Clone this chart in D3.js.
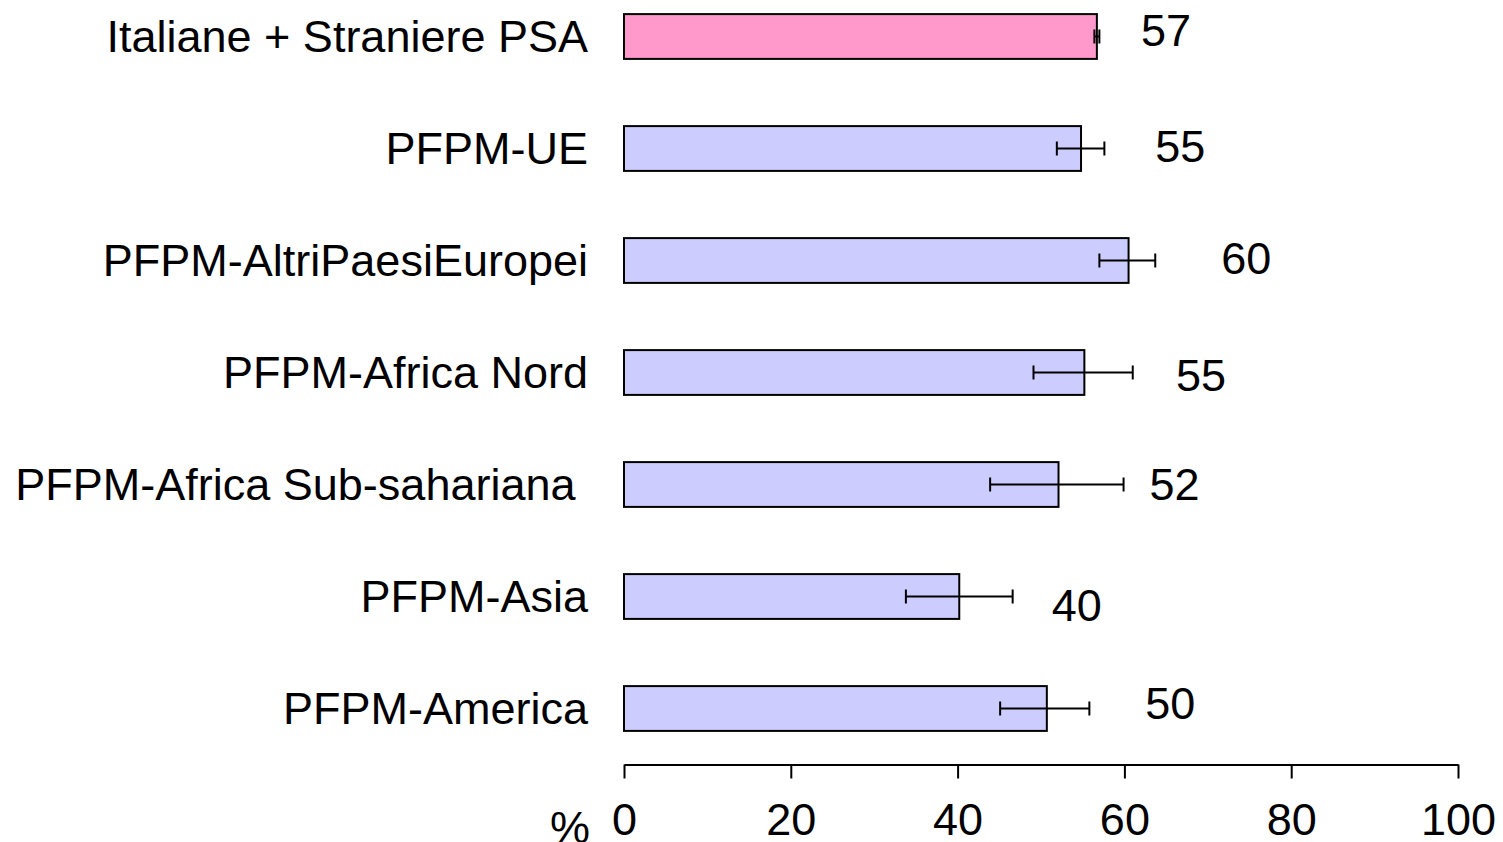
<!DOCTYPE html>
<html>
<head>
<meta charset="utf-8">
<script src="https://cdn.jsdelivr.net/npm/d3@7"></script>
<style>
  html, body { margin: 0; padding: 0; background: #ffffff; overflow: hidden; }
  svg { display: block; }
  text { font-family: "Liberation Sans", Arial, sans-serif; fill: #000; white-space: pre; }
</style>
</head>
<body>
<svg id="chart" width="1503" height="842"></svg>
<script>
// ---- data ----
const categories = [
  "Italiane + Straniere PSA",
  "PFPM-UE",
  "PFPM-AltriPaesiEuropei",
  "PFPM-Africa Nord",
  "PFPM-Africa Sub-sahariana ",
  "PFPM-Asia",
  "PFPM-America"
];
const values   = [56.7, 54.8, 60.5, 55.2, 52.1, 40.2, 50.7];
const errLow   = [56.4, 51.9, 57.0, 49.1, 43.9, 33.8, 45.1];
const errHigh  = [57.0, 57.6, 63.7, 61.0, 59.9, 46.6, 55.8];
const valueLabels = ["57", "55", "60", "55", "52", "40", "50"];
const tickValues = [0, 20, 40, 60, 80, 100];
const axisUnit = "%";

// ---- layout (not data) ----
const labelAt = [62.0, 63.7, 71.6, 66.2, 63.0, 51.3, 62.5];   // label anchor along the value axis
const labelDy = [9.5, 13, 13.5, 18.5, 15, 24.5, 10.5];        // baseline offset from bar centre, px
const barColors = ["#FF99CC", "#CCCCFF", "#CCCCFF", "#CCCCFF", "#CCCCFF", "#CCCCFF", "#CCCCFF"];

const svg = d3.select("#chart");
const fontSize = 45;

const x = d3.scaleLinear().domain([0, 100]).range([624, 1458]);
const y = d3.scaleBand().domain(categories).range([-19.5, 764.5])
  .paddingInner(0.6).paddingOuter(0.3);

const rows = categories.map((c, i) => ({
  c, v: values[i], lo: errLow[i], hi: errHigh[i], lab: valueLabels[i],
  la: labelAt[i], dy: labelDy[i], col: barColors[i]
}));

// bars
svg.append("g").selectAll("rect").data(rows).join("rect")
  .attr("x", x(0))
  .attr("y", d => y(d.c))
  .attr("width", d => x(d.v) - x(0))
  .attr("height", y.bandwidth())
  .attr("fill", d => d.col)
  .attr("stroke", "#000")
  .attr("stroke-width", 2);

// error bars
const capH = 14;
const eg = svg.append("g").attr("stroke", "#000").attr("stroke-width", 2).attr("fill", "none");
rows.forEach(d => {
  const cy = y(d.c) + y.bandwidth() / 2;
  eg.append("line").attr("x1", x(d.lo)).attr("x2", x(d.hi)).attr("y1", cy).attr("y2", cy);
  eg.append("line").attr("x1", x(d.lo)).attr("x2", x(d.lo)).attr("y1", cy - capH / 2).attr("y2", cy + capH / 2);
  eg.append("line").attr("x1", x(d.hi)).attr("x2", x(d.hi)).attr("y1", cy - capH / 2).attr("y2", cy + capH / 2);
});

// category labels
svg.append("g").selectAll("text").data(rows).join("text")
  .attr("x", 588)
  .attr("y", d => y(d.c) + y.bandwidth() / 2)
  .attr("dy", "0.35em")
  .attr("text-anchor", "end")
  .attr("font-size", fontSize)
  .text(d => d.c);

// value labels
svg.append("g").selectAll("text").data(rows).join("text")
  .attr("x", d => x(d.la))
  .attr("y", d => y(d.c) + y.bandwidth() / 2 + d.dy)
  .attr("font-size", fontSize)
  .text(d => d.lab);

// x axis
const axis = d3.axisBottom(x).tickValues(tickValues).tickSize(14).tickSizeOuter(0).tickPadding(25);
const ag = svg.append("g").attr("transform", "translate(0,764.5)").call(axis);
ag.select(".domain").attr("stroke", "#000").attr("stroke-width", 2);
ag.selectAll(".tick line").attr("stroke", "#000").attr("stroke-width", 2);
ag.selectAll(".tick text")
  .attr("font-size", fontSize)
  .attr("font-family", "\"Liberation Sans\", Arial, sans-serif")
  .attr("fill", "#000");

svg.append("text")
  .attr("x", 590).attr("y", 843)
  .attr("text-anchor", "end")
  .attr("font-size", fontSize)
  .text(axisUnit);
</script>
</body>
</html>
